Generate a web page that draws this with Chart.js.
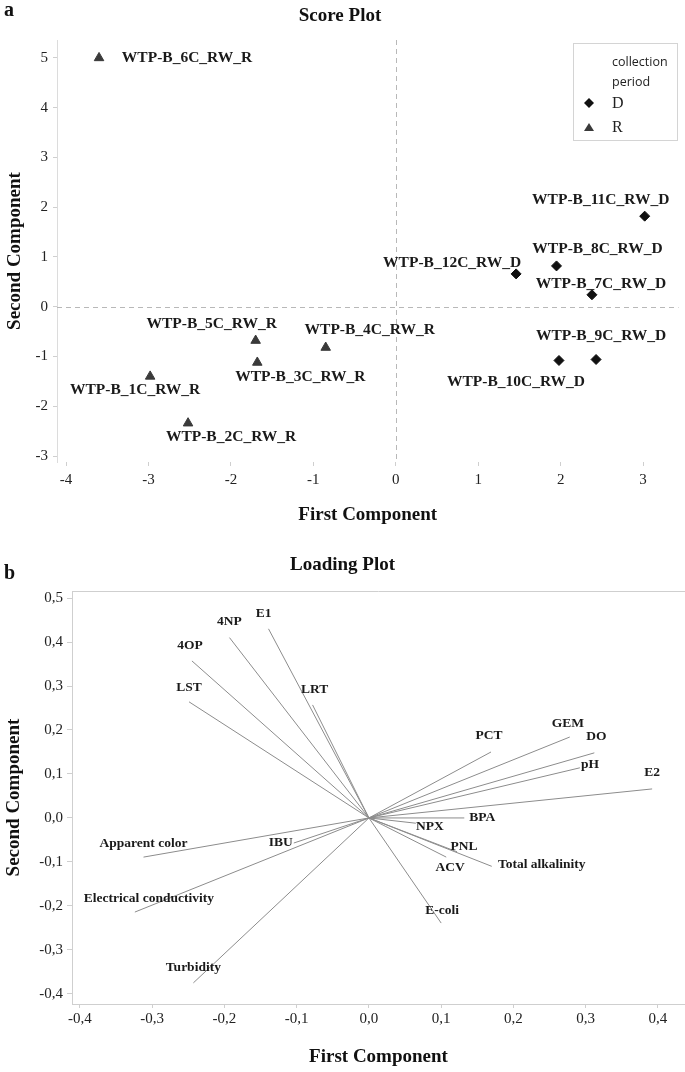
<!DOCTYPE html>
<html>
<head>
<meta charset="utf-8">
<script src="https://cdn.jsdelivr.net/npm/chart.js@4.4.0/dist/chart.umd.min.js"></script>
<style>
  body { margin: 0; background: #fff; width: 685px; height: 1072px; position: relative; overflow: hidden; }
  .pane { position: absolute; left: 0; }
  .tag { position: absolute; left: 4px; font: bold 20px "Liberation Serif", serif; color: #111; }
</style>
</head>
<body>
<div class="pane" style="top:0"><canvas id="score" width="685" height="540"></canvas></div>
<div class="pane" style="top:540px"><canvas id="loading" width="685" height="532"></canvas></div>
<div class="tag" style="top:-2px">a</div>
<div class="tag" style="top:561px">b</div>
<script>
// ---- score plot data ----
const sampleNames = ['WTP-B_1C_RW_R', 'WTP-B_2C_RW_R', 'WTP-B_3C_RW_R', 'WTP-B_4C_RW_R',
  'WTP-B_5C_RW_R', 'WTP-B_6C_RW_R', 'WTP-B_7C_RW_D', 'WTP-B_8C_RW_D', 'WTP-B_9C_RW_D',
  'WTP-B_10C_RW_D', 'WTP-B_11C_RW_D', 'WTP-B_12C_RW_D'];
const firstComp = [-2.98, -2.52, -1.68, -0.85, -1.70, -3.60, 2.38, 1.95, 2.43, 1.98, 3.02, 1.46];
const secondComp = [-1.40, -2.34, -1.12, -0.82, -0.68, 5.00, 0.24, 0.82, -1.06, -1.08, 1.82, 0.66];
const period = ['R', 'R', 'R', 'R', 'R', 'R', 'D', 'D', 'D', 'D', 'D', 'D'];
// where each sample label sits, relative to its marker (px)
const sampleLabelOffset = [[-15, 14], [43, 14], [43, 15], [44, -18], [-44, -17], [88, 0],
  [9, -11], [41, -17], [5, -23], [-43, 22], [-44, -16], [-64, -11]];

// ---- loading plot data ----
const variables = ['E1', '4NP', '4OP', 'LST', 'LRT', 'PCT', 'GEM', 'DO', 'pH', 'E2', 'BPA', 'NPX',
  'PNL', 'Total alkalinity', 'ACV', 'E-coli', 'Turbidity', 'Electrical conductivity',
  'Apparent color', 'IBU'];
const loadPC1 = [-0.139, -0.193, -0.245, -0.249, -0.078, 0.169, 0.278, 0.312, 0.292, 0.392, 0.132,
  0.065, 0.122, 0.170, 0.107, 0.100, -0.243, -0.324, -0.312, -0.104];
const loadPC2 = [0.430, 0.410, 0.357, 0.264, 0.257, 0.150, 0.184, 0.148, 0.114, 0.066, 0.000,
  -0.012, -0.077, -0.110, -0.089, -0.239, -0.375, -0.214, -0.089, -0.057];
const varLabelOffset = [[-5, -15], [0, -16], [-2, -15], [0, -14], [2, -15], [-2, -16], [-2, -14],
  [2, -16], [10, -3], [0, -16], [18, 0], [14, 3], [7, -5], [50, -2], [4, 10], [1, -13], [0, -15],
  [14, -14], [0, -14], [-13, -1]];

const SERIF = '"Liberation Serif", "Times New Roman", serif';
const tickFont = { family: SERIF, size: 15 };
const axisTitleFont = { family: SERIF, size: 19, weight: 'bold' };
const mainTitleFont = { family: SERIF, size: 19, weight: 'bold' };

function points(code) {
  const out = [];
  firstComp.forEach((x, i) => { if (period[i] === code) out.push({ x: x, y: secondComp[i], i: i }); });
  return out;
}

const scorePlugin = {
  id: 'scoreExtras',
  beforeDatasetsDraw(chart) {
    const { ctx, chartArea: a, scales: { x, y } } = chart;
    ctx.save();
    ctx.strokeStyle = '#b8b8b8';
    ctx.lineWidth = 1;
    ctx.setLineDash([5, 4]);
    const x0 = Math.round(x.getPixelForValue(0)) + 0.5;
    const y0 = Math.round(y.getPixelForValue(0)) + 0.5;
    ctx.beginPath();
    ctx.moveTo(x0, a.top); ctx.lineTo(x0, a.bottom);
    ctx.moveTo(a.left, y0); ctx.lineTo(a.right, y0);
    ctx.stroke();
    ctx.restore();
  },
  afterDatasetsDraw(chart) {
    const { ctx, scales: { x, y } } = chart;
    ctx.save();
    ctx.fillStyle = '#1a1a1a';
    ctx.font = 'bold 15.5px ' + SERIF;
    ctx.textAlign = 'center';
    ctx.textBaseline = 'middle';
    sampleNames.forEach((name, i) => {
      const px = x.getPixelForValue(firstComp[i]);
      const py = y.getPixelForValue(secondComp[i]);
      ctx.fillText(name, px + sampleLabelOffset[i][0], py + sampleLabelOffset[i][1]);
    });

    // legend box
    ctx.strokeStyle = '#d4d4d4';
    ctx.lineWidth = 1;
    ctx.strokeRect(573.5, 43.5, 104, 97);
    ctx.textAlign = 'left';
    ctx.fillStyle = '#222';
    ctx.font = '12.5px "Open Sans", "Noto Sans", sans-serif';
    ctx.fillText('collection', 612, 62);
    ctx.fillText('period', 612, 82);
    ctx.font = '16px ' + SERIF;
    ctx.fillText('D', 612, 104);
    ctx.fillText('R', 612, 128);
    ctx.fillStyle = '#111';
    ctx.beginPath();
    ctx.moveTo(589, 98); ctx.lineTo(594, 103); ctx.lineTo(589, 108); ctx.lineTo(584, 103);
    ctx.closePath(); ctx.fill();
    ctx.fillStyle = '#3a3a3a';
    ctx.beginPath();
    ctx.moveTo(589, 123); ctx.lineTo(594, 131); ctx.lineTo(584, 131);
    ctx.closePath(); ctx.fill();
    ctx.restore();
  }
};

new Chart(document.getElementById('score'), {
  type: 'scatter',
  data: {
    datasets: [
      { label: 'D', data: points('D'), pointStyle: 'rectRot', pointRadius: 5,
        backgroundColor: '#111', borderColor: '#111', borderWidth: 1 },
      { label: 'R', data: points('R'), pointStyle: 'triangle', pointRadius: 5.5,
        backgroundColor: '#3a3a3a', borderColor: '#3a3a3a', borderWidth: 1 }
    ]
  },
  options: {
    responsive: false,
    animation: false,
    layout: { padding: { left: 0, right: 5, top: 0, bottom: 0 } },
    plugins: {
      legend: { display: false },
      tooltip: { enabled: false },
      title: { display: true, text: 'Score Plot', font: mainTitleFont, color: '#111',
        padding: { top: 5, bottom: 12.2 } }
    },
    scales: {
      x: {
        type: 'linear', min: -4.11, max: 3.43,
        afterFit(s) { s.height = 78; },
        ticks: { stepSize: 1, includeBounds: false, maxTicksLimit: 20, autoSkip: false,
          maxRotation: 0, font: tickFont, color: '#222', padding: 5 },
        grid: { drawOnChartArea: false, tickLength: 4, color: '#cfcfcf' },
        border: { display: false },
        title: { display: true, text: 'First Component', font: axisTitleFont, color: '#111',
          padding: { top: 0, bottom: 13.6 } }
      },
      y: {
        type: 'linear', min: -3.12, max: 5.36,
        afterFit(s) { s.width = 57; },
        ticks: { stepSize: 1, includeBounds: false, maxTicksLimit: 20, autoSkip: false,
          font: tickFont, color: '#222', padding: 5 },
        grid: { drawOnChartArea: false, tickLength: 4, color: '#cfcfcf' },
        border: { display: true, color: '#dcdcdc' },
        title: { display: true, text: 'Second Component', font: axisTitleFont, color: '#111',
          padding: { top: 3.6, bottom: 0 } }
      }
    }
  },
  plugins: [scorePlugin]
});

// ---- loading plot ----
const loadingPlugin = {
  id: 'loadingExtras',
  beforeDatasetsDraw(chart) {
    const { ctx, chartArea: a } = chart;
    ctx.save();
    ctx.strokeStyle = '#cfcfcf';
    ctx.lineWidth = 1;
    ctx.beginPath();
    ctx.moveTo(a.left, Math.round(a.top) + 0.5);
    ctx.lineTo(a.right, Math.round(a.top) + 0.5);
    ctx.stroke();
    ctx.restore();
  },
  afterDatasetsDraw(chart) {
    const { ctx, scales: { x, y } } = chart;
    ctx.save();
    ctx.fillStyle = '#1a1a1a';
    ctx.font = 'bold 13.5px ' + SERIF;
    ctx.textAlign = 'center';
    ctx.textBaseline = 'middle';
    variables.forEach((name, i) => {
      const px = x.getPixelForValue(loadPC1[i]);
      const py = y.getPixelForValue(loadPC2[i]);
      ctx.fillText(name, px + varLabelOffset[i][0], py + varLabelOffset[i][1]);
    });
    ctx.restore();
  }
};

const comma = v => (Math.abs(v) < 1e-9 ? '0,0' : v.toFixed(1).replace('.', ','));

new Chart(document.getElementById('loading'), {
  type: 'line',
  data: {
    datasets: variables.map((name, i) => ({
      label: name,
      data: [{ x: 0, y: 0 }, { x: loadPC1[i], y: loadPC2[i] }],
      borderColor: '#8c8c8c',
      borderWidth: 1,
      pointRadius: 0,
      fill: false,
      tension: 0
    }))
  },
  options: {
    responsive: false,
    animation: false,
    layout: { padding: { left: 0, right: 0, top: 0, bottom: 0 } },
    plugins: {
      legend: { display: false },
      tooltip: { enabled: false },
      title: { display: true, text: 'Loading Plot', font: mainTitleFont, color: '#111',
        padding: { top: 13.6, bottom: 14.6 } }
    },
    scales: {
      x: {
        type: 'linear', min: -0.411, max: 0.4375,
        afterFit(s) { s.height = 68; },
        ticks: { stepSize: 0.1, includeBounds: false, maxTicksLimit: 20, autoSkip: false,
          maxRotation: 0, font: tickFont, color: '#222', padding: 2, callback: comma },
        grid: { drawOnChartArea: false, tickLength: 4, color: '#cfcfcf' },
        border: { display: true, color: '#cfcfcf' },
        title: { display: true, text: 'First Component', font: axisTitleFont, color: '#111',
          padding: { top: 0, bottom: 3.6 } }
      },
      y: {
        type: 'linear', min: -0.423, max: 0.516,
        afterFit(s) { s.width = 72; },
        ticks: { stepSize: 0.1, includeBounds: false, maxTicksLimit: 20, autoSkip: false,
          font: tickFont, color: '#222', padding: 4, callback: comma },
        grid: { drawOnChartArea: false, tickLength: 5, color: '#cfcfcf' },
        border: { display: true, color: '#cfcfcf' },
        title: { display: true, text: 'Second Component', font: axisTitleFont, color: '#111',
          padding: { top: 2.6, bottom: 0 } }
      }
    }
  },
  plugins: [loadingPlugin]
});
</script>
</body>
</html>
